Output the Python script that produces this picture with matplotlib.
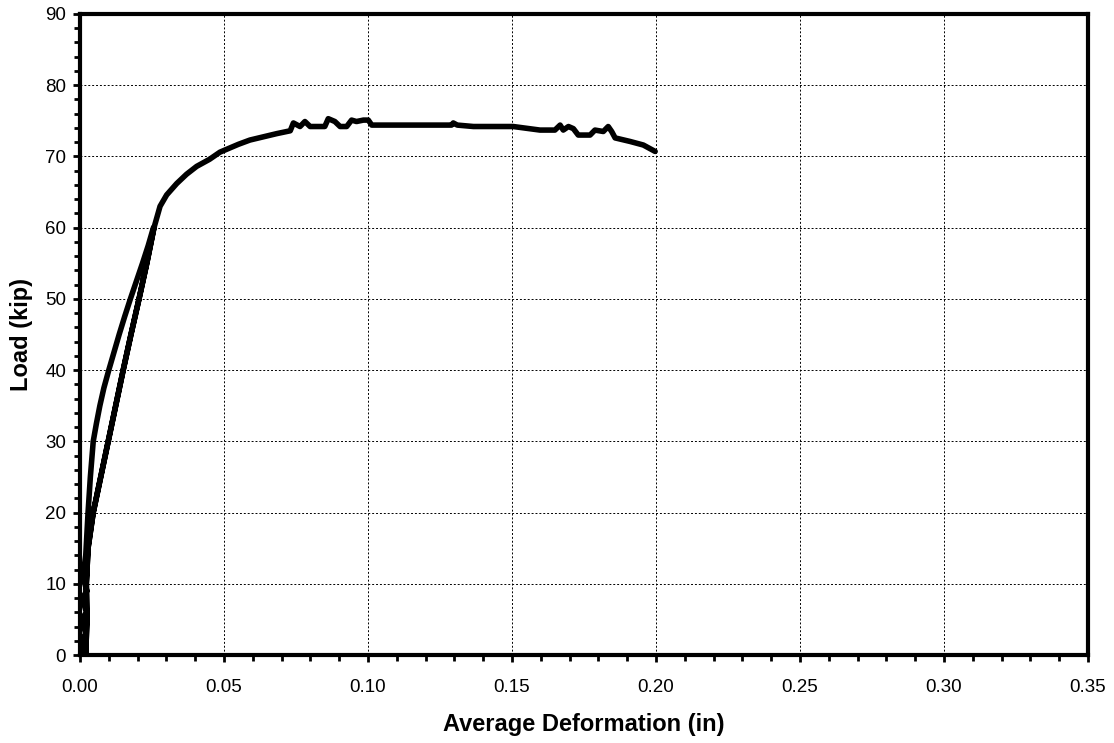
import matplotlib
matplotlib.use('Agg')
import numpy as np
import matplotlib.pyplot as plt
from matplotlib.ticker import MultipleLocator

plt.rcParams['font.family'] = ['Liberation Sans', 'DejaVu Sans']

# load path: first loading (outer branch), unloading, reloading (inner branch), plateau
load_up_def = [0.0012, 0.0004, 0.0020, 0.0006, 0.0022, 0.0008, 0.0024, 0.0010, 0.0020,
               0.0028, 0.0036, 0.0046, 0.0057, 0.0069, 0.0083, 0.0100, 0.0118, 0.0136,
               0.0155, 0.0175, 0.0196, 0.0217, 0.0237, 0.0255]
load_up_kip = [0.0, 2.0, 3.0, 5.0, 6.0, 8.0, 9.0, 11.0, 14.0,
               20.0, 25.0, 30.0, 32.5, 35.0, 37.5, 40.0, 42.5, 45.0,
               47.5, 50.0, 52.5, 55.0, 57.5, 60.0]

unload_def = [0.0257, 0.0232, 0.0205, 0.0177, 0.0150, 0.0124, 0.0098, 0.0072,
              0.0046, 0.0028, 0.0022, 0.0024, 0.0020]
unload_kip = [60.0, 55.0, 50.0, 45.0, 40.0, 35.0, 30.0, 25.0,
              20.0, 15.0, 10.0, 5.0, 0.0]

reload_def = [0.0020, 0.0024, 0.0022, 0.0028, 0.0046, 0.0072, 0.0098, 0.0124,
              0.0150, 0.0177, 0.0205, 0.0232, 0.0257,
              0.0278, 0.0301, 0.0336, 0.0370, 0.0405, 0.0450, 0.0486, 0.0550,
              0.0590, 0.0683, 0.0730, 0.0741, 0.0764, 0.0781, 0.0799, 0.0850,
              0.0862, 0.0885, 0.0903, 0.0926, 0.0943, 0.0960, 0.0984, 0.1001,
              0.1013, 0.1030, 0.1290, 0.1296, 0.1310, 0.1366, 0.1504, 0.1597,
              0.1649, 0.1667, 0.1678, 0.1696, 0.1713, 0.1730, 0.1771, 0.1788,
              0.1817, 0.1834, 0.1846, 0.1858, 0.1910, 0.1956, 0.1997]
reload_kip = [0.0, 5.0, 10.0, 15.0, 20.0, 25.0, 30.0, 35.0,
              40.0, 45.0, 50.0, 55.0, 60.0,
              63.0, 64.6, 66.2, 67.5, 68.6, 69.6, 70.6, 71.7,
              72.3, 73.2, 73.6, 74.7, 74.2, 74.9, 74.2, 74.2,
              75.3, 74.9, 74.2, 74.2, 75.1, 74.9, 75.1, 75.1,
              74.4, 74.4, 74.4, 74.7, 74.4, 74.2, 74.2, 73.7,
              73.7, 74.4, 73.7, 74.2, 73.9, 73.0, 73.0, 73.7,
              73.5, 74.2, 73.5, 72.6, 72.1, 71.6, 70.7]

deform = load_up_def + unload_def + reload_def
load = load_up_kip + unload_kip + reload_kip

fig = plt.figure(figsize=(11.14, 7.43), dpi=100)
ax = fig.add_axes([0.0718, 0.1184, 0.9049, 0.8628])

ax.plot(deform, load, color='black', lw=4.0, solid_joinstyle='round',
        solid_capstyle='round', zorder=3)

ax.set_xlim(0, 0.35)
ax.set_ylim(0, 90)
ax.xaxis.set_major_locator(MultipleLocator(0.05))
ax.xaxis.set_minor_locator(MultipleLocator(0.01))
ax.yaxis.set_major_locator(MultipleLocator(10))
ax.yaxis.set_minor_locator(MultipleLocator(2))
ax.xaxis.set_major_formatter(plt.FuncFormatter(lambda v, p: '%.2f' % v))

ax.grid(True, which='major', color='black', linestyle=(0, (2, 2)), lw=0.7)
ax.tick_params(which='both', direction='out', color='black', width=2)
ax.tick_params(which='major', length=5, labelsize=13.5)
ax.tick_params(axis='x', which='major', pad=12)
ax.tick_params(axis='y', which='major', pad=5)
ax.tick_params(which='minor', length=4)
for s in ax.spines.values():
    s.set_linewidth(3)

ax.set_xlabel('Average Deformation (in)', fontsize=17, fontweight='bold')
ax.set_ylabel('Load (kip)', fontsize=17, fontweight='bold')
ax.xaxis.set_label_coords(0.5, -0.090)
ax.yaxis.set_label_coords(-0.047, 0.5)

fig.savefig('out.png', dpi=100)
